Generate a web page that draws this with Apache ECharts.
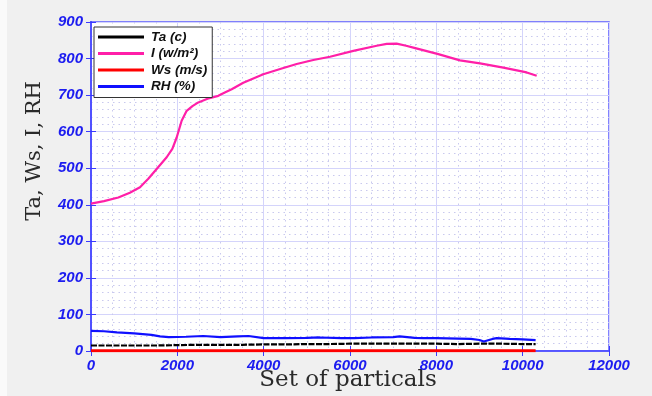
<!DOCTYPE html>
<html>
<head>
<meta charset="utf-8">
<script src="https://cdn.jsdelivr.net/npm/echarts@6/dist/echarts.min.js"></script>
<style>
  html, body { margin: 0; padding: 0; background: #f0f0f0; }
  #chart { width: 652px; height: 396px; }
</style>
</head>
<body>
<div id="chart"></div>
<script>
// Air temperature (c) along the particle set
const taX = [0, 500, 1000, 1500, 2000, 2500, 3000, 3500, 4000, 4500, 5000, 5500, 6000, 6500, 7000, 7500, 8000, 8500, 9000, 9500, 10000, 10300];
const taY = [15, 15, 15, 15, 16, 17, 17, 17, 18, 18, 19, 19, 20, 20, 20, 20, 20, 19, 20, 20, 19, 19];

// Irradiance (w/m²)
const irrX = [0, 300, 633, 900, 1135, 1327, 1521, 1753, 1884, 1985, 2100, 2216, 2350, 2486, 2700, 2949, 3100, 3259, 3528, 3992, 4400, 4765, 5150, 5537, 6077, 6618, 6850, 7081, 7300, 7467, 8046, 8548, 9012, 9552, 10093, 10325];
const irrY = [403, 410, 420, 433, 448, 471, 498, 530, 553, 584, 630, 657, 670, 680, 690, 698, 707, 716, 734, 757, 772, 785, 796, 805, 821, 835, 840, 841, 835, 830, 812, 795, 787, 775, 762, 753];

// Wind speed (m/s)
const wsX = [0, 2000, 4000, 6000, 8000, 10300];
const wsY = [1, 1, 1, 1, 1, 1];

// Relative humidity (%)
const rhX = [0, 300, 600, 1000, 1400, 1600, 1800, 2200, 2600, 3000, 3400, 3650, 4000, 4500, 5000, 5300, 5800, 6100, 6500, 7000, 7150, 7500, 7700, 8000, 8500, 8800, 9000, 9100, 9300, 9400, 9700, 10000, 10300];
const rhY = [55, 54, 51, 48, 44, 40, 38, 39, 41, 38, 40, 41, 35, 35, 36, 37, 35, 35, 37, 38, 40, 36, 35, 35, 34, 33, 30, 26, 33, 35, 33, 32, 30];

// Axis ranges
const xMin = 0, xMax = 12000, xStep = 2000;
const yMin = 0, yMax = 900, yStep = 100;

const pairs = (xs, ys) => xs.map((x, i) => [x, ys[i]]);

const axisBlue = '#3a3aff';
const labelBlue = '#1c1cf0';
const tickFont = {
  color: labelBlue,
  fontFamily: 'Liberation Sans, Arial, sans-serif',
  fontWeight: 'bold',
  fontStyle: 'italic',
  fontSize: 15,
  formatter: v => String(v)
};

const chart = echarts.init(document.getElementById('chart'), null, { renderer: 'canvas' });

chart.setOption({
  animation: false,
  backgroundColor: '#f0f0f0',
  grid: {
    left: 91, right: 43, top: 22, bottom: 45,
    containLabel: false,
    outerBoundsMode: 'none',
    show: true,
    backgroundColor: '#ffffff',
    borderColor: '#5a5aff',
    borderWidth: 1.5
  },
  graphic: [
    { type: 'rect', left: 0, top: 0, shape: { width: 7, height: 396 }, style: { fill: '#fafafa' }, silent: true, z: -1 },
    {
      type: 'text',
      x: 35, y: 151,
      rotation: Math.PI / 2,
      style: {
        text: 'Ta, Ws, I, RH',
        font: '21px "DejaVu Serif", "Liberation Serif", serif',
        fill: '#2a2a2a',
        textAlign: 'center',
        textVerticalAlign: 'middle'
      }
    },
    {
      type: 'text',
      x: 348, y: 380,
      style: {
        text: 'Set of particals',
        font: '23px "DejaVu Serif", "Liberation Serif", serif',
        fill: '#2a2a2a',
        textAlign: 'center',
        textVerticalAlign: 'middle'
      }
    }
  ],
  legend: {
    orient: 'vertical',
    left: 94, top: 27,
    backgroundColor: '#ffffff',
    borderColor: '#333333',
    borderWidth: 1,
    padding: [3, 5, 4, 4],
    itemGap: 2.5,
    itemWidth: 46,
    itemHeight: 3,
    icon: 'rect',
    textStyle: {
      color: '#111111',
      fontFamily: 'Liberation Sans, Arial, sans-serif',
      fontWeight: 'bold',
      fontStyle: 'italic',
      fontSize: 13.5,
      lineHeight: 14,
      padding: [0, 0, 0, 2]
    },
    data: ['Ta (c)', 'I (w/m²)', 'Ws (m/s)', 'RH (%)']
  },
  xAxis: [
    {
      type: 'value',
      min: xMin, max: xMax, interval: xStep,
      axisLine: { show: true, lineStyle: { color: axisBlue, width: 1.5 } },
      axisTick: { show: true, inside: true, length: 5, lineStyle: { color: axisBlue } },
      axisLabel: Object.assign({ margin: 7 }, tickFont),
      splitLine: { show: true, lineStyle: { color: '#d4d4fb', width: 1 } },
      minorTick: { show: false, splitNumber: 4 },
      minorSplitLine: { show: true, lineStyle: { color: '#c9c9ee', type: [1.5, 4], width: 1 } }
    },
    {
      type: 'value',
      position: 'top',
      min: xMin, max: xMax, interval: xStep,
      axisLine: { show: true, lineStyle: { color: '#5a5aff', width: 1.5 } },
      axisTick: { show: true, inside: true, length: 5, lineStyle: { color: axisBlue } },
      axisLabel: { show: false },
      splitLine: { show: false }
    }
  ],
  yAxis: [
    {
      type: 'value',
      min: yMin, max: yMax, interval: yStep,
      axisLine: { show: true, lineStyle: { color: axisBlue, width: 2 } },
      axisTick: { show: true, inside: true, length: 5, lineStyle: { color: axisBlue } },
      axisLabel: Object.assign({ margin: 8 }, tickFont),
      splitLine: { show: true, lineStyle: { color: '#d4d4fb', width: 1 } },
      minorTick: { show: false, splitNumber: 5 },
      minorSplitLine: { show: true, lineStyle: { color: '#c9c9ee', type: [1.5, 4], width: 1 } }
    },
    {
      type: 'value',
      position: 'right',
      min: yMin, max: yMax, interval: yStep,
      axisLine: { show: true, lineStyle: { color: '#5a5aff', width: 1.5 } },
      axisTick: { show: true, inside: true, length: 5, lineStyle: { color: axisBlue } },
      axisLabel: { show: false },
      splitLine: { show: false }
    }
  ],
  series: [
    {
      name: 'Ta (c)', type: 'line', showSymbol: false,
      data: pairs(taX, taY),
      color: '#000000',
      lineStyle: { color: '#000000', width: 2.2, type: [6, 1.5] },
      z: 3
    },
    {
      name: 'I (w/m²)', type: 'line', showSymbol: false,
      data: pairs(irrX, irrY),
      color: '#ff1fa8',
      lineStyle: { color: '#ff1fa8', width: 2.2 },
      z: 3
    },
    {
      name: 'Ws (m/s)', type: 'line', showSymbol: false,
      data: pairs(wsX, wsY),
      color: '#ff0000',
      lineStyle: { color: '#ff0000', width: 3 },
      z: 4
    },
    {
      name: 'RH (%)', type: 'line', showSymbol: false,
      data: pairs(rhX, rhY),
      color: '#1010ff',
      lineStyle: { color: '#1010ff', width: 2.2 },
      z: 3
    }
  ]
});
</script>
</body>
</html>
